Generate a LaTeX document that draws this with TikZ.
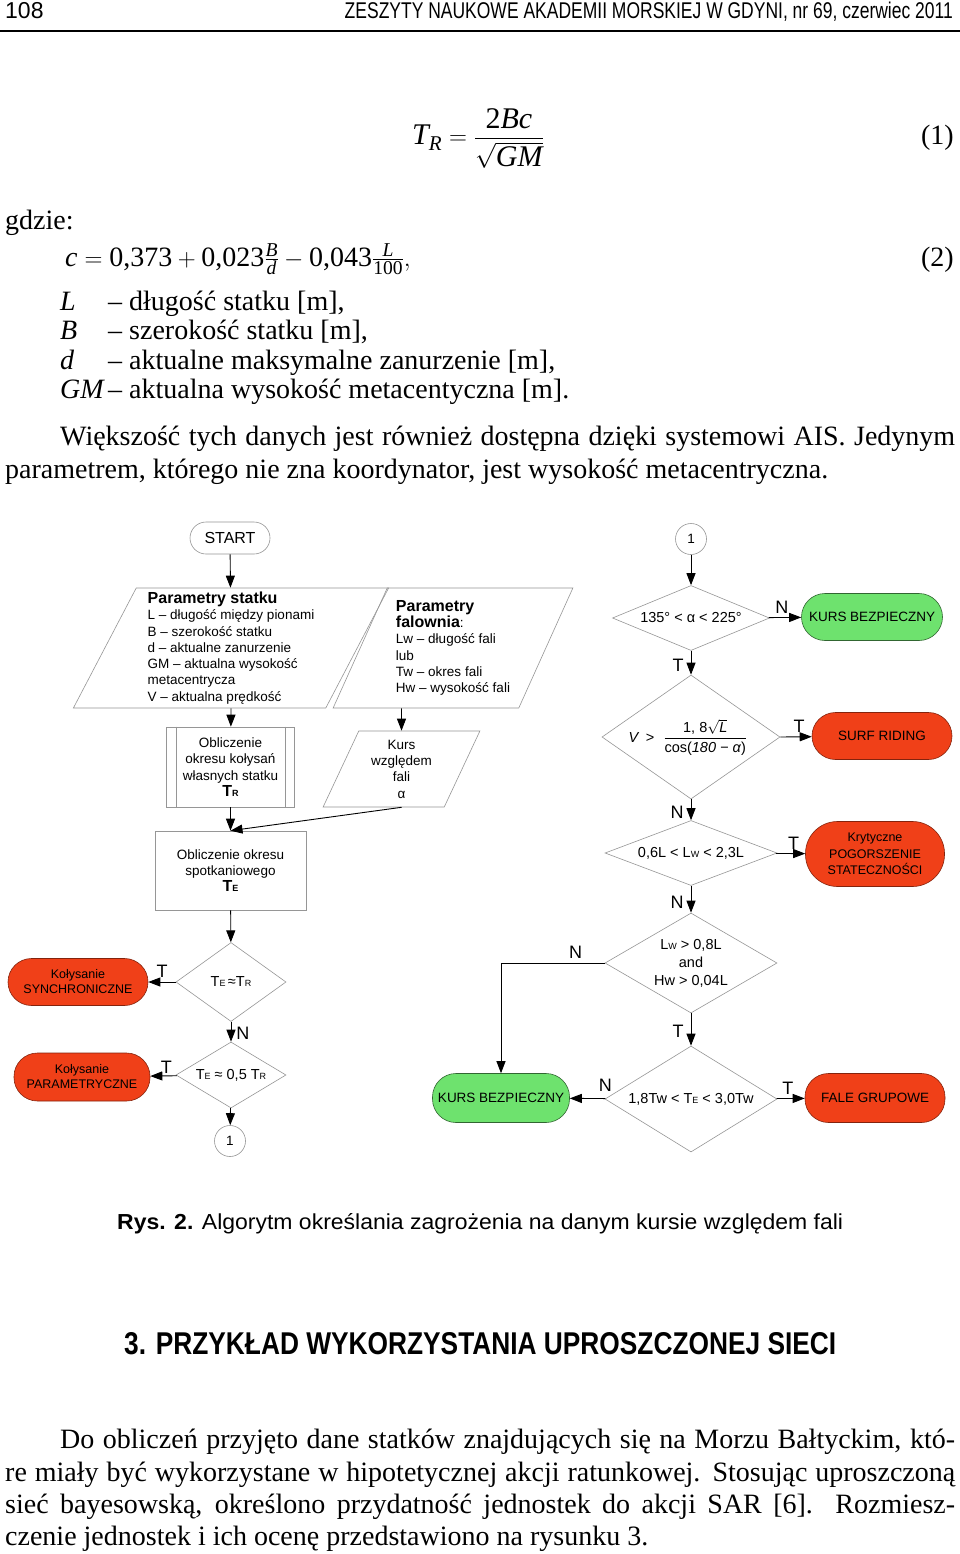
\documentclass[tikz,border=0pt]{standalone}
\usepackage{amsmath}
\usepackage{graphicx}
\usepackage{fontspec}
\setmainfont{Liberation Serif}
\newfontfamily\arial{Liberation Sans}
\usetikzlibrary{positioning,shapes.geometric,arrows.meta,calc}

\definecolor{alarmred}{RGB}{240,64,24}
\definecolor{safegreen}{RGB}{110,226,110}
\definecolor{shapegray}{RGB}{150,150,150}

\newcommand{\flowfont}{\arial\fontsize{13.5}{16.3}\selectfont}
\newcommand{\condfont}{\arial\fontsize{14.5}{18}\selectfont}
\newcommand{\labelfont}{\arial\fontsize{18}{18}\selectfont}
\newcommand{\bodyfont}{\fontsize{28}{33}\selectfont}
\newcommand{\idx}[1]{{\fontsize{9}{9}\selectfont #1}}

\begin{document}
\begin{tikzpicture}[x=1pt,y=-1pt,
    textline/.style={anchor=base west,inner sep=0pt,font=\bodyfont},
    box/.style={rectangle,draw=shapegray,line width=0.6pt,align=center,font=\flowfont},
    io/.style={trapezium,trapezium stretches=true,draw=shapegray,line width=0.6pt,
               inner sep=0pt,align=left,font=\flowfont},
    decision/.style={diamond,aspect=#1,draw=shapegray,line width=0.6pt,inner sep=0pt,
                     align=center,font=\condfont},
    decision/.default=1.5,
    term/.style={rectangle,rounded corners=#1,draw=shapegray,line width=0.6pt,
                 align=center,font=\flowfont},
    term/.default=23.5pt,
    alarm/.style={term=#1,fill=alarmred,draw=alarmred!55!black},
    alarm/.default=23.5pt,
    safe/.style={term=#1,fill=safegreen,draw=safegreen!45!black},
    safe/.default=23.5pt,
    conn/.style={circle,draw=shapegray,line width=0.6pt,minimum size=31pt,
                 inner sep=0pt,font=\flowfont},
    arr/.style={-{Triangle[length=12pt,width=9pt]},line width=0.9pt},
    lbl/.style={font=\labelfont,inner sep=1pt}]

  \fill[white] (0,0) rectangle (960,1554);
  \useasboundingbox (0,0) rectangle (960,1554);

  % header
  \node[anchor=base west,inner sep=0pt] (pageno) at (5,19)
    {\arial\fontsize{23}{23}\selectfont 108};
  \node[anchor=base east,inner sep=0pt] (journal) at (953,19)
    {\resizebox{608pt}{16.5pt}{\arial ZESZYTY NAUKOWE AKADEMII MORSKIEJ W GDYNI, nr 69, czerwiec 2011}};
  \draw[line width=1.2pt] (0,31) -- (960,31);

  % formulas
  \node[anchor=base,inner sep=0pt] (eqone) at (478,145)
    {\fontsize{30}{30}\selectfont$\textit{T}_{\textit{R}}=\dfrac{\text{2}\textit{Bc}}{\sqrt{\textit{GM}}}$};
  \node[anchor=base east,inner sep=0pt] (eqonenr) at (954,145) {\bodyfont(1)};
  \node[textline] (gdzie) at (5,230) {gdzie:};
  \node[textline] (eqtwo) at (65,266)
    {$\textit{c}=\text{0,373}+\text{0,023}\tfrac{\textit{B}}{\textit{d}}-\text{0,043}\tfrac{\textit{L}}{\text{100}},$};
  \node[anchor=base east,inner sep=0pt] (eqtwonr) at (954,266) {\bodyfont(2)};

  \node[textline] (symL) at (60,310) {\textit{L}};
  \node[textline] (defL) at (108,310) {– długość statku [m],};
  \node[textline] (symB) at (60,339) {\textit{B}};
  \node[textline] (defB) at (108,339) {– szerokość statku [m],};
  \node[textline] (symd) at (60,369) {\textit{d}};
  \node[textline] (defd) at (108,369) {– aktualne maksymalne zanurzenie [m],};
  \node[textline] (symGM) at (60,398) {\textit{GM}};
  \node[textline] (defGM) at (108,398) {– aktualna wysokość metacentyczna [m].};

  \node[textline] (parA) at (60,445)
    {\makebox[895pt][s]{Większość tych danych jest również dostępna dzięki systemowi AIS. Jedynym}};
  \node[textline] (parB) at (5,478)
    {parametrem, którego nie zna koordynator, jest wysokość metacentryczna.};

  % flowchart, left part
  \node[term=16pt,minimum width=80pt,minimum height=32pt,font=\arial\fontsize{16}{16}\selectfont]
    (start) at (230,538) {START};
  \node[io,trapezium left angle=63.8,trapezium right angle=116.2,
        minimum width=316pt,minimum height=120pt] (ship) at (231,648)
    {{\bfseries\fontsize{16}{18}\selectfont Parametry statku}\\
     L – długość między pionami\\
     B – szerokość statku\\
     d – aktualne zanurzenie\\
     GM – aktualna wysokość\\
     metacentrycza\\
     V – aktualna prędkość};
  \node[io,trapezium left angle=63.8,trapezium right angle=116.2,
        minimum width=240pt,minimum height=120pt] (wave) at (453,648)
    {{\bfseries\fontsize{16}{18}\selectfont Parametry}\\
     {\bfseries\fontsize{16}{18}\selectfont falownia}:\\
     Lw – długość fali\\
     lub\\
     Tw – okres fali\\
     Hw – wysokość fali};
  \node[box,minimum width=128pt,minimum height=80pt] (roll) at (230.5,767)
    {Obliczenie\\okresu kołysań\\własnych statku\\{\bfseries\fontsize{16}{18}\selectfont T\idx{R}}};
  \draw[shapegray,line width=0.6pt] ([xshift=10pt]roll.north west) -- ([xshift=10pt]roll.south west);
  \draw[shapegray,line width=0.6pt] ([xshift=-10pt]roll.north east) -- ([xshift=-10pt]roll.south east);
  \node[io,align=center,trapezium left angle=66.5,trapezium right angle=113.5,
        minimum width=157pt,minimum height=76pt] (course) at (401.5,769)
    {Kurs\\względem\\fali\\α};
  \node[box,minimum width=151pt,minimum height=79pt] (enc) at (230.5,870.5)
    {Obliczenie okresu\\spotkaniowego\\{\bfseries\fontsize{16}{18}\selectfont T\idx{E}}};
  \node[decision=1.39,minimum width=110pt,minimum height=79pt] (dsync) at (231,982)
    {T\idx{E}\,≈T\idx{R}};
  \node[alarm,minimum width=140pt,minimum height=47pt,font=\arial\fontsize{12.5}{15}\selectfont]
    (sync) at (78,982) {Kołysanie\\SYNCHRONICZNE};
  \node[decision=1.67,minimum width=110pt,minimum height=66pt] (dpar) at (231,1075)
    {T\idx{E} ≈ 0,5 T\idx{R}};
  \node[alarm,minimum width=136pt,minimum height=48pt,font=\arial\fontsize{12.5}{15}\selectfont]
    (par) at (82,1077) {Kołysanie\\PARAMETRYCZNE};
  \node[conn] (backA) at (230,1141) {1};

  % flowchart, right part
  \node[conn] (backB) at (691,539) {1};
  \node[decision=2.42,minimum width=157pt,minimum height=65pt] (dcourse) at (691,618)
    {135° < α < 225°};
  \node[safe,minimum width=141pt,minimum height=47pt] (safeA) at (872,617) {KURS BEZPIECZNY};
  \node[decision=1.44,minimum width=178pt,minimum height=124pt] (dsurf) at (691,737) {};
  \node[font=\condfont] (surftext) at (688,737)
    {\textit{V}\, >\,\, $\dfrac{\text{1, 8}\sqrt{\text{\itshape L}}}{\text{cos(\itshape 180 − α\/\upshape)}}$};
  \node[alarm,minimum width=140pt,minimum height=47pt] (surf) at (882,736) {SURF RIDING};
  \node[decision=2.65,minimum width=172pt,minimum height=65pt] (dlen) at (691,853)
    {0,6L < L\idx{W} < 2,3L};
  \node[alarm=32pt,minimum width=139pt,minimum height=65pt,font=\arial\fontsize{12.5}{16.5}\selectfont]
    (stab) at (875,854) {Krytyczne\\POGORSZENIE\\STATECZNOŚCI};
  \node[decision=1.72,minimum width=172pt,minimum height=100pt] (dgroup) at (691,963)
    {L\idx{W} > 0,8L\\and\\Hw > 0,04L};
  \node[decision=1.62,minimum width=172pt,minimum height=106pt] (dper) at (691,1099)
    {1,8Tw < T\idx{E} < 3,0Tw};
  \node[safe,minimum width=137pt,minimum height=49pt] (safeB) at (501,1098) {KURS BEZPIECZNY};
  \node[alarm,minimum width=140pt,minimum height=49pt] (fale) at (875,1098) {FALE GRUPOWE};

  % connectors
  \draw[arr] (start) -- (ship);
  \draw[arr] (ship.south) -- (roll);
  \draw[arr] (course.north |- wave.south) -- (course);
  \draw[arr] (roll) -- (enc);
  \draw[arr] (course.south) -- (enc.north);
  \draw[arr] (enc) -- (dsync);
  \draw[arr] (dsync) -- node[lbl,above=3pt,pos=0.5]{T} (sync);
  \draw[arr] (dsync) -- node[lbl,right=4pt,pos=0.6]{N} (dpar);
  \draw[arr] (dpar) -- node[lbl,above=1pt,pos=0.4]{T} (par);
  \draw[arr] (dpar) -- (backA);

  \draw[arr] (backB) -- (dcourse);
  \draw[arr] (dcourse) -- node[lbl,above=3pt,pos=0.4]{N} (safeA);
  \draw[arr] (dcourse) -- node[lbl,left=6pt,pos=0.6]{T} (dsurf);
  \draw[arr] (dsurf.east) -- node[lbl,above=3pt,pos=0.6]{T} (surf);
  \draw[arr] (dsurf) -- node[lbl,left=6pt,pos=0.6]{N} (dlen);
  \draw[arr] (dlen) -- node[lbl,above=3pt,pos=0.6]{T} (stab);
  \draw[arr] (dlen) -- node[lbl,left=6pt,pos=0.6]{N} (dgroup);
  \draw[arr] (dgroup.west) -| node[lbl,above=3pt,pos=0.14]{N} (safeB.north);
  \draw[arr] (dgroup) -- node[lbl,left=6pt,pos=0.55]{T} (dper);
  \draw[arr] (dper) -- node[lbl,above=6pt,pos=0]{N} (safeB);
  \draw[arr] (dper) -- node[lbl,above=3pt,pos=0.4]{T} (fale);

  % caption and following text
  \node[anchor=base west,inner sep=0pt] (caption) at (117,1229)
    {\resizebox{726pt}{16pt}{\arial\textbf{Rys. 2.} Algorytm określania zagrożenia na danym kursie względem fali}};
  \node[anchor=base west,inner sep=0pt] (section) at (124,1354)
    {\resizebox{712pt}{22pt}{\arial\bfseries 3. PRZYKŁAD WYKORZYSTANIA UPROSZCZONEJ SIECI}};
  \node[textline] (parC) at (60,1448)
    {\makebox[895pt][s]{Do obliczeń przyjęto dane statków znajdujących się na Morzu Bałtyckim, któ-}};
  \node[textline] (parD) at (5,1481)
    {\makebox[950pt][s]{re miały być wykorzystane w hipotetycznej akcji ratunkowej. Stosując uproszczoną}};
  \node[textline] (parE) at (5,1513)
    {\makebox[950pt][s]{sieć bayesowską, określono przydatność jednostek do akcji SAR [6]. Rozmiesz-}};
  \node[textline] (parF) at (5,1545)
    {czenie jednostek i ich ocenę przedstawiono na rysunku 3.};
\end{tikzpicture}
\end{document}
